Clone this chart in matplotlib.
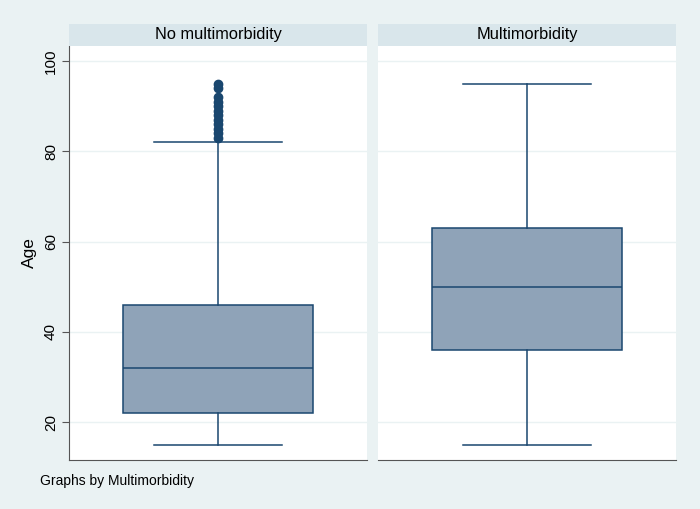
import matplotlib.pyplot as plt

plt.rcParams['font.family'] = ['Liberation Sans', 'DejaVu Sans']

panels = ['No multimorbidity', 'Multimorbidity']
q1 = [22, 36]
median = [32, 50]
q3 = [46, 63]
whis_lo = [15, 15]
whis_hi = [82, 95]
outliers = [[83, 84, 85, 86, 87, 88, 89, 90, 91, 92, 94, 95], []]
yticks = [20, 40, 60, 80, 100]

bg = '#EAF2F3'
strip = '#D9E6EB'
navy = '#1A476F'
fill = '#8FA3B8'

fig = plt.figure(figsize=(7, 5.09), dpi=100, facecolor=bg)
W, H = 700, 509
lefts = [69, 378]
pw = 298
top, bottom = 45.7, 460

for i, name in enumerate(panels):
    ax = fig.add_axes([lefts[i] / W, (H - bottom) / H, pw / W, (bottom - top) / H])
    ax.set_facecolor('white')
    stats = [dict(med=median[i], q1=q1[i], q3=q3[i], whislo=whis_lo[i],
                  whishi=whis_hi[i], fliers=outliers[i])]
    ax.bxp(stats, positions=[0], widths=0.638, capwidths=0.43, patch_artist=True,
           boxprops=dict(facecolor=fill, edgecolor=navy, linewidth=1.1),
           medianprops=dict(color=navy, linewidth=1.1),
           whiskerprops=dict(color=navy, linewidth=1.1),
           capprops=dict(color=navy, linewidth=1.1),
           flierprops=dict(marker='o', markerfacecolor=navy, markeredgecolor=navy,
                           markersize=6))
    ax.set_xlim(-0.5, 0.5)
    ax.set_ylim(11.6, 103.4)
    ax.set_xticks([])
    ax.set_yticks(yticks)
    for y in yticks:
        ax.axhline(y, color=bg, linewidth=1, zorder=0)
    for s in ['top', 'right']:
        ax.spines[s].set_visible(False)
    ax.spines['bottom'].set_color('#555555')
    if i == 0:
        ax.spines['left'].set_color('#555555')
        ax.set_yticklabels([str(y) for y in yticks], rotation=90, va='center', fontsize=11)
        ax.tick_params(axis='y', length=5, color='#555555', pad=3)
        ax.set_ylabel('Age', fontsize=12.5)
        ax.yaxis.set_label_coords(-0.108, 0.5)
    else:
        ax.spines['left'].set_visible(False)
        ax.tick_params(axis='y', left=False, labelleft=False)

    hx = fig.add_axes([lefts[i] / W, (H - top) / H, pw / W, 21.7 / H])
    hx.set_facecolor(strip)
    hx.set_xticks([])
    hx.set_yticks([])
    for s in hx.spines.values():
        s.set_visible(False)
    hx.text(0.5, 0.5, name, ha='center', va='center', fontsize=11.8)

fig.text(40 / W, 1 - 481 / H, 'Graphs by Multimorbidity', ha='left', va='center', fontsize=10)

fig.savefig('out.png', dpi=100, facecolor=bg)
